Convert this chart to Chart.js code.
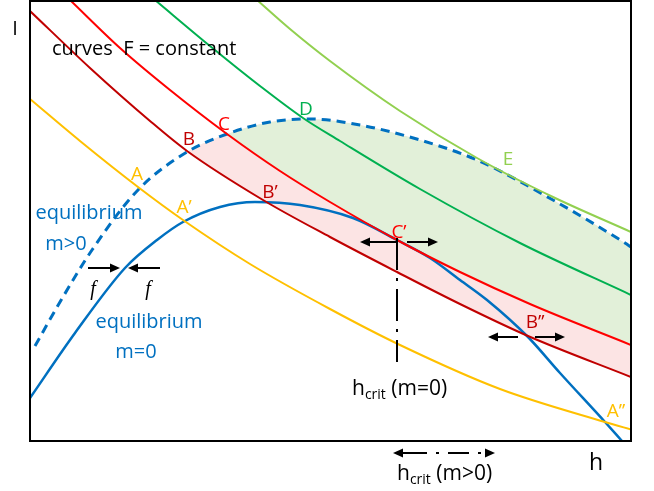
<!DOCTYPE html>
<html><head><meta charset="utf-8">
<script src="https://cdn.jsdelivr.net/npm/chart.js@4"></script>
<style>html,body{margin:0;padding:0;background:#fff}</style>
</head><body>
<canvas id="c" width="654" height="491"></canvas>
<script>
// ---- data (h, I) ----
const curveA = [[0,342],[50,300],[108,254],[153,221],[220,177],[300,132],[370,96],[470,52],[575,19],[603,11]];
const curveB = [[0,430],[60,373],[120,320],[157,290],[233,241],[300,204],[367,169],[430,137],[498,105],[601,64]];
const curveC = [[40,441],[90,393],[140,351],[197,307],[250,270],[300,239],[367,201],[430,169],[500,137],[601,96]];
const curveD = [[125,441],[180,395],[230,355],[273,323],[310,300],[390,252],[490,198],[601,146]];
const curveE = [[227,441],[260,412],[300,380],[370,330],[447,283],[523,244],[601,209]];
const eqDashed = [[5,95],[30,139],[62,191],[108,251],[157,289],[197,307],[240,319],[280,322],[330,316],[390,301],[447,281],[523,241],[595,198],[601,194]];
const eqSolid = [[0,43],[45,108],[95,173],[127,201],[153,219],[190,234],[225,239],[270,236],[323,223],[367,201],[400,183],[430,161],[457,141],[498,104],[530,68],[575,19],[592,0]];

const ORANGE='#FFC000', DARKRED='#C00000', RED='#FF0000', GREEN='#00B050', LGREEN='#92D050', BLUE='#0070C0';
const PINK='rgb(252,228,228)', PALEGREEN='rgb(226,240,217)';

// ---- annotations (data units) ----
const curveLabels = [
  ['A',107,261,ORANGE],['A\u2019',154,228,ORANGE],['A\u2019\u2019',586,24,ORANGE],
  ['B',159,296,DARKRED],['B\u2019',240,243,DARKRED],['B\u2019\u2019',505,113,DARKRED],
  ['C',194,311,RED],['C\u2019',369,203,RED],
  ['D',276,326,GREEN],['E',478,276,LGREEN]
];
const blueTexts = [['equilibrium',59,222],['m>0',36,191],['equilibrium',119,113],['m=0',106,83]];
const arrows = [[58,173,90,173],[130,173,98,173],[367,199,330,199],[377,199,408,199],[488,104,458,104],[505,104,535,104]];

const pts = a => a.map(([x,y]) => ({x, y}));
const line = (data, color, extra) => Object.assign({
  data: pts(data), borderColor: color, borderWidth: 2, pointRadius: 0,
  cubicInterpolationMode: 'monotone', fill: false
}, extra || {});

const FONT = '"Open Sans", sans-serif';

const annot = {
  id: 'annot',
  afterDatasetsDraw(chart) {
    const {ctx, chartArea: a, scales: {x, y}} = chart;
    const X = v => x.getPixelForValue(v), Y = v => y.getPixelForValue(v);
    ctx.save();
    ctx.strokeStyle = '#000'; ctx.lineWidth = 2;
    ctx.strokeRect(a.left, a.top, a.right - a.left, a.bottom - a.top);

    ctx.textBaseline = 'alphabetic';
    ctx.textAlign = 'center';
    ctx.font = '19px ' + FONT;
    curveLabels.forEach(([t, hx, iy, c]) => { ctx.fillStyle = c; ctx.fillText(t, X(hx), Y(iy)); });
    ctx.font = '20px ' + FONT;
    ctx.fillStyle = BLUE;
    blueTexts.forEach(([t, hx, iy]) => ctx.fillText(t, X(hx), Y(iy)));
    ctx.fillStyle = '#000';
    ctx.font = '20px ' + FONT;
    ctx.fillText('I', X(-15), Y(406));
    ctx.font = '23px ' + FONT;
    ctx.fillText('h', X(566), Y(-29));
    ctx.font = '20px ' + FONT;
    ctx.textAlign = 'left';
    ctx.fillText('curves  F = constant', X(22), Y(386));

    const hcrit = (hx, iy, rest) => {
      let px = X(hx), py = Y(iy);
      ctx.font = '21px ' + FONT; ctx.fillText('h', px, py); px += ctx.measureText('h').width;
      ctx.font = '14px ' + FONT; ctx.fillText('crit', px, py + 4); px += ctx.measureText('crit').width;
      ctx.font = '21px ' + FONT; ctx.fillText(rest, px, py);
    };
    hcrit(322, 46, ' (m=0)');
    hcrit(367, -39, ' (m>0)');

    ctx.font = 'italic 20px "Liberation Serif", serif';
    ctx.textAlign = 'center';
    ctx.fillText('f', X(63), Y(146));
    ctx.fillText('f', X(118), Y(146));

    const head = (x0, y0, x1, y1) => {
      const ang = Math.atan2(y1 - y0, x1 - x0), L = 10, W = 4.5;
      ctx.beginPath();
      ctx.moveTo(x1, y1);
      ctx.lineTo(x1 - L*Math.cos(ang) + W*Math.sin(ang), y1 - L*Math.sin(ang) - W*Math.cos(ang));
      ctx.lineTo(x1 - L*Math.cos(ang) - W*Math.sin(ang), y1 - L*Math.sin(ang) + W*Math.cos(ang));
      ctx.closePath(); ctx.fill();
    };
    ctx.strokeStyle = '#000'; ctx.fillStyle = '#000'; ctx.lineWidth = 2;
    arrows.forEach(([h0, i0, h1, i1]) => {
      const x0 = X(h0), y0 = Y(i0), x1 = X(h1), y1 = Y(i1);
      const d = Math.hypot(x1 - x0, y1 - y0), ux = (x1 - x0)/d, uy = (y1 - y0)/d;
      ctx.beginPath(); ctx.moveTo(x0, y0); ctx.lineTo(x1 - 8*ux, y1 - 8*uy); ctx.stroke();
      head(x0, y0, x1, y1);
    });
    // vertical dash-dot at h_crit (m=0)
    ctx.setLineDash([32, 8, 3, 8]);
    ctx.beginPath(); ctx.moveTo(X(367), Y(203)); ctx.lineTo(X(367), Y(79)); ctx.stroke();
    // horizontal dash-dot arrow h_crit (m>0)
    ctx.setLineDash([30, 9, 3, 9, 21, 9, 3, 9]);
    ctx.beginPath(); ctx.moveTo(X(367), Y(-12)); ctx.lineTo(X(458), Y(-12)); ctx.stroke();
    ctx.setLineDash([]);
    head(X(400), Y(-12), X(363), Y(-12));
    head(X(430), Y(-12), X(465), Y(-12));
    ctx.restore();
  }
};

new Chart(document.getElementById('c'), {
  type: 'line',
  data: {
    datasets: [
      line(curveE, LGREEN),
      line(curveD, GREEN),
      line(curveC, RED, {fill: {target: 6, above: 'rgba(0,0,0,0)', below: PALEGREEN}}),
      line(curveB, DARKRED),
      line(curveA, ORANGE),
      line(eqSolid, BLUE, {borderWidth: 2.5}),
      line(eqDashed, BLUE, {borderWidth: 3, borderDash: [9, 6], fill: {target: 3, above: PINK, below: 'rgba(0,0,0,0)'}})
    ]
  },
  options: {
    responsive: false, animation: false, devicePixelRatio: 1,
    layout: {padding: {left: 30, right: 23, top: 1, bottom: 50}},
    scales: {
      x: {type: 'linear', min: 0, max: 601, display: false},
      y: {type: 'linear', min: 0, max: 440, display: false}
    },
    plugins: {legend: {display: false}, tooltip: {enabled: false}, filler: {drawTime: 'beforeDatasetsDraw'}}
  },
  plugins: [annot]
});
</script>
</body></html>
